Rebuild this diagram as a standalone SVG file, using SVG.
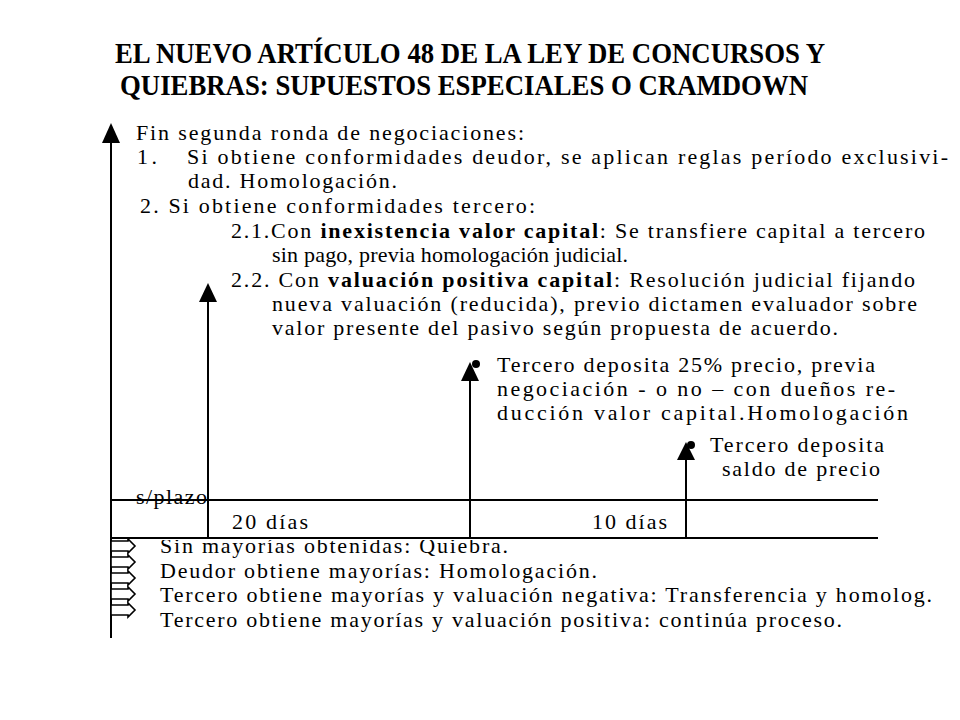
<svg xmlns="http://www.w3.org/2000/svg" width="960" height="720" viewBox="0 0 960 720" font-family="Liberation Serif, Times New Roman, serif">
<style>
.t{font-family:'Liberation Serif',serif;font-size:22px;fill:#000}
.b{font-weight:bold}
.title{font-family:'Liberation Serif',serif;font-size:30px;font-weight:bold;fill:#000}
.ln{stroke:#000;stroke-width:2;fill:none}
.ah{fill:#000}
.blk{fill:#fff;stroke:#000;stroke-width:1.6}
</style>
<defs>
<clipPath id="clipB1"><rect x="150" y="540" width="400" height="30"/></clipPath>
<path id="blockArrow" d="M111,0 H128 V-2 L135,5 L128,12 V10 H111 Z"/>
</defs>
<rect width="960" height="720" fill="#fff"/>
<g id="title">
<text class="title" x="115" y="63" textLength="710" lengthAdjust="spacingAndGlyphs">EL NUEVO ARTÍCULO 48 DE LA LEY DE CONCURSOS Y</text>
<text class="title" x="120" y="95" textLength="688" lengthAdjust="spacingAndGlyphs">QUIEBRAS: SUPUESTOS ESPECIALES O CRAMDOWN</text>
</g>
<g id="connectors">
<line class="ln" x1="111" y1="140" x2="111" y2="638"/>
<polygon class="ah" points="111,123 102,143 120,143"/>
<line class="ln" x1="208" y1="300" x2="208" y2="538"/>
<polygon class="ah" points="208,283 199,302 217,302"/>
<line class="ln" x1="470" y1="380" x2="470" y2="538"/>
<polygon class="ah" points="470,362 461,381 479,381"/>
<circle class="ah" cx="476" cy="364" r="4"/>
<line class="ln" x1="686" y1="458" x2="686" y2="538"/>
<polygon class="ah" points="686,442 677,460 695,460"/>
<circle class="ah" cx="691" cy="445" r="4"/>
<line class="ln" x1="111" y1="500" x2="878" y2="500"/>
<line class="ln" x1="111" y1="538" x2="878" y2="538"/>
</g>
<g id="block-arrows">
<use href="#blockArrow" class="blk" transform="translate(0,541)"/>
<use href="#blockArrow" class="blk" transform="translate(0,557)"/>
<use href="#blockArrow" class="blk" transform="translate(0,573)"/>
<use href="#blockArrow" class="blk" transform="translate(0,589)"/>
<use href="#blockArrow" class="blk" transform="translate(0,605)"/>
</g>
<g id="node-fin">
<text class="t" x="136" y="140" textLength="388" lengthAdjust="spacing">Fin segunda ronda de negociaciones:</text>
<text class="t" x="137" y="164" textLength="20" lengthAdjust="spacing">1.</text>
<text class="t" x="187" y="164" textLength="761" lengthAdjust="spacing">Si obtiene conformidades deudor, se aplican reglas período exclusivi-</text>
<text class="t" x="188" y="188" textLength="209" lengthAdjust="spacing">dad. Homologación.</text>
<text class="t" x="140" y="213" textLength="395" lengthAdjust="spacing">2. Si obtiene conformidades tercero:</text>
<text class="t" x="231" y="238" textLength="694" lengthAdjust="spacing">2.1.Con <tspan class="b">inexistencia valor capital</tspan>: Se transfiere capital a tercero</text>
<text class="t" x="272" y="262" textLength="356" lengthAdjust="spacing">sin pago, previa homologación judicial.</text>
<text class="t" x="231" y="287" textLength="684" lengthAdjust="spacing">2.2. Con <tspan class="b">valuación positiva capital</tspan>: Resolución judicial fijando</text>
<text class="t" x="272" y="311" textLength="645" lengthAdjust="spacing">nueva valuación (reducida), previo dictamen evaluador sobre</text>
<text class="t" x="272" y="335" textLength="566" lengthAdjust="spacing">valor presente del pasivo según propuesta de acuerdo.</text>
</g>
<g id="node-deposito25">
<text class="t" x="497" y="372" textLength="378" lengthAdjust="spacing">Tercero deposita 25% precio, previa</text>
<text class="t" x="497" y="396" textLength="398" lengthAdjust="spacing">negociación  - o no – con dueños re-</text>
<text class="t" x="497" y="420" textLength="411" lengthAdjust="spacing">ducción valor capital.Homologación</text>
</g>
<g id="node-saldo">
<text class="t" x="710" y="452" textLength="174" lengthAdjust="spacing">Tercero deposita</text>
<text class="t" x="722" y="476" textLength="158" lengthAdjust="spacing">saldo de precio</text>
</g>
<g id="node-plazos">
<text class="t" x="136" y="504" textLength="71" lengthAdjust="spacing">s/plazo</text>
<text class="t" x="232" y="529" textLength="76" lengthAdjust="spacing">20 días</text>
<text class="t" x="592" y="529" textLength="75" lengthAdjust="spacing">10 días</text>
</g>
<g id="node-resultados">
<text class="t" x="160" y="553" textLength="348" lengthAdjust="spacing" clip-path="url(#clipB1)">Sin mayorías obtenidas: Quiebra.</text>
<text class="t" x="160" y="578" textLength="437" lengthAdjust="spacing">Deudor obtiene mayorías: Homologación.</text>
<text class="t" x="160" y="602" textLength="772" lengthAdjust="spacing">Tercero obtiene mayorías y valuación negativa: Transferencia y homolog.</text>
<text class="t" x="160" y="627" textLength="682" lengthAdjust="spacing">Tercero obtiene mayorías y valuación positiva: continúa proceso.</text>
</g>
</svg>
